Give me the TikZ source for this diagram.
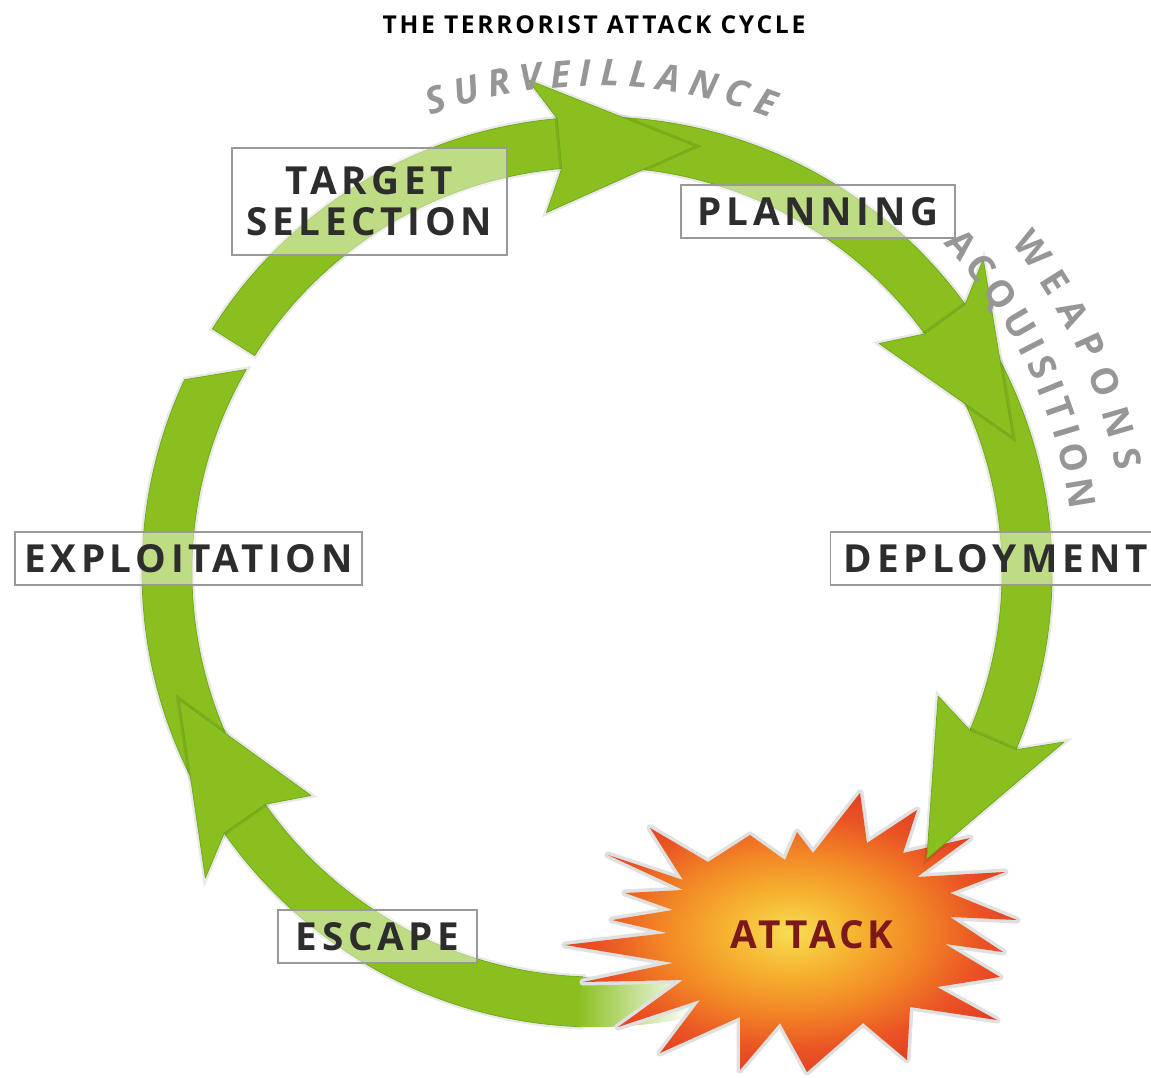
\documentclass[tikz,border=0pt]{standalone}
\usepackage{fontspec}
\setmainfont{Open Sans}
\usetikzlibrary{decorations.text}

\definecolor{ringgreen}{RGB}{137,192,32}
\definecolor{ringedge}{RGB}{112,166,24}
\definecolor{arcgray}{RGB}{150,150,150}
\definecolor{labeltext}{RGB}{45,45,45}
\definecolor{attackred}{RGB}{122,24,26}
\definecolor{burstyellow}{RGB}{247,222,84}
\definecolor{burstlight}{RGB}{246,180,48}
\definecolor{burstorange}{RGB}{242,136,38}
\definecolor{burstdeep}{RGB}{234,84,36}
\definecolor{burstred}{RGB}{226,60,34}

\pgfdeclareradialshading{burst}{\pgfpoint{0bp}{0bp}}{color(0bp)=(burstyellow); color(7bp)=(burstlight); color(14bp)=(burstorange); color(21bp)=(burstdeep); color(27bp)=(burstred); color(50bp)=(burstred)}

\newcommand\arcfont{\fontsize{21}{24}\selectfont\bfseries}
\newcommand\stagefont{\bfseries\fontsize{22}{23.5}\selectfont\addfontfeature{LetterSpace=12}}

\begin{document}
\begin{tikzpicture}[x=0.02cm, y=0.02cm,
  ring/.style={fill=ringgreen, draw=ringedge, line width=.4pt, line join=round,
    preaction={draw=black, draw opacity=.09, line width=3pt}},
  stage/.style={draw=black!40, line width=.8pt, fill=white, fill opacity=.45, text opacity=1,
    text=labeltext, font=\stagefont, inner sep=0pt, minimum height=1.06cm, align=center},
  arctext/.style={decorate, decoration={text along path, text align={fit to path}, text color=arcgray}}]

\useasboundingbox (0,0) rectangle (1151,1077);
\node (title) at (594,1052) {\bfseries\fontsize{14}{16}\selectfont\addfontfeature{LetterSpace=11}THE TERRORIST ATTACK CYCLE};

\begin{scope}[shift={(597,505)}]
  % upper piece: from the gap round to the last arrow
  \fill[ring] (147.7:455) arc[start angle=147.7, end angle=-30, radius=455]
    -- (-30:405) arc[start angle=-30, end angle=147.7, radius=405] -- cycle;
  % lower piece: out of the burst up to the gap
  \fill[ring] (-92:455) arc[start angle=-92, end angle=-205, radius=455]
    -- (-210:405) arc[start angle=-210, end angle=-92, radius=405] -- cycle;
  \shade[left color=ringgreen, right color=white] (-78:455) arc[start angle=-78, end angle=-92.5, radius=455]
    -- (-92.5:405) arc[start angle=-92.5, end angle=-78, radius=405] -- cycle;
\end{scope}

% the burst
\draw[black!12, line width=4pt, line join=round] (650,249) -- (708,215) -- (750,242) -- (785,217) -- (797,245) -- (813,224)
  -- (860,284) -- (867,234) -- (917,267) -- (903,224) -- (970,239) -- (917,200) -- (1005,205)
  -- (950,184) -- (1017,157) -- (950,160) -- (1003,125) -- (945,133) -- (1000,100) -- (937,90)
  -- (997,57) -- (910,70) -- (907,17) -- (863,54) -- (807,5) -- (780,54) -- (740,7) -- (740,60)
  -- (660,24) -- (700,77) -- (618,50) -- (683,97) -- (583,95) -- (673,114) -- (565,132)
  -- (667,144) -- (612,157) -- (673,167) -- (625,184) -- (683,187) -- (608,222) -- (683,197) -- cycle;
\shade[shading=burst] (650,249) -- (708,215) -- (750,242) -- (785,217) -- (797,245) -- (813,224)
  -- (860,284) -- (867,234) -- (917,267) -- (903,224) -- (970,239) -- (917,200) -- (1005,205)
  -- (950,184) -- (1017,157) -- (950,160) -- (1003,125) -- (945,133) -- (1000,100) -- (937,90)
  -- (997,57) -- (910,70) -- (907,17) -- (863,54) -- (807,5) -- (780,54) -- (740,7) -- (740,60)
  -- (660,24) -- (700,77) -- (618,50) -- (683,97) -- (583,95) -- (673,114) -- (565,132)
  -- (667,144) -- (612,157) -- (673,167) -- (625,184) -- (683,187) -- (608,222) -- (683,197) -- cycle;
\node[font=\bfseries\fontsize{22}{24}\selectfont\addfontfeature{LetterSpace=10}, text=attackred] (attack) at (812,142) {ATTACK};

\begin{scope}[shift={(597,505)}]
  % arrow heads
  \foreach \b in {98,39,-20,-142}
    \fill[ring] (\b:497) -- ({\b-21}:437) -- (\b:363) -- ({\b-3}:405) -- ({\b-3}:455) -- cycle;
  % curved words
  \path[arctext, decoration={text={|\arcfont\itshape|SURVEILLANCE}}]
    (110:486) arc[start angle=110, end angle=69, radius=486];
  \path[arctext, decoration={text={|\arcfont|WEAPONS}}]
    (38.5:529) arc[start angle=38.5, end angle=11, radius=529];
  \path[arctext, decoration={text={|\arcfont|ACQUISITION}}]
    (43.5:477) arc[start angle=43.5, end angle=7.5, radius=477];
\end{scope}

% stage labels
\node[stage, minimum width=5.5cm, minimum height=2.14cm] (target) at (369.5,875.5) {TARGET\\SELECTION};
\node[stage, minimum width=5.48cm] (planning) at (818,865.5) {PLANNING};
\node[stage, minimum width=6.94cm] (exploit) at (188.5,518.5) {EXPLOITATION};
\node[stage, minimum width=6.6cm, anchor=west] (deploy) at (830,518.5) {DEPLOYMENT};
\node[stage, minimum width=3.98cm] (escape) at (377.5,140.5) {ESCAPE};
\end{tikzpicture}
\end{document}
